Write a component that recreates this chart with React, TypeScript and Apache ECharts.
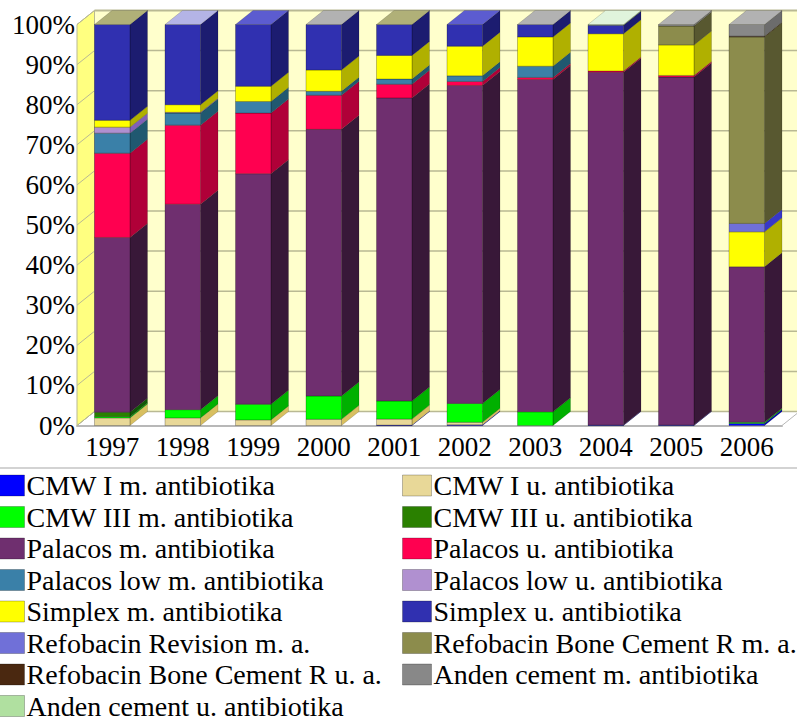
import React, { useEffect, useRef } from "react";
import * as echarts from "echarts";

const years = ["1997", "1998", "1999", "2000", "2001", "2002", "2003", "2004", "2005", "2006"];
const yTicks = [0, 10, 20, 30, 40, 50, 60, 70, 80, 90, 100];

const cmwIM = [0, 0, 0, 0, 0.1, 0.2, 0, 0.1, 0.1, 0.5];
const cmwIU = [1.9, 1.9, 1.4, 1.55, 1.5, 0.6, 0, 0, 0, 0];
const cmwIIIM = [0.3, 2.05, 3.9, 5.8, 4.5, 4.7, 3.4, 0, 0, 0.3];
const cmwIIIU = [1.1, 0, 0, 0, 0, 0, 0, 0, 0, 0];
const palacosM = [43.6, 51.25, 57.5, 66.5, 75.6, 79.3, 82.9, 88.0, 86.8, 38.8];
const palacosU = [21, 19.7, 15.1, 8.5, 3.4, 1, 0.5, 0.3, 0.4, 0];
const palacosLowM = [5, 3, 2.9, 1, 1.3, 1.4, 2.8, 0, 0, 0];
const palacosLowU = [1.5, 0.2, 0, 0, 0, 0, 0, 0, 0, 0];
const simplexM = [1.7, 1.9, 3.8, 5.3, 5.9, 7.4, 7.3, 9.3, 7.6, 8.7];
const simplexU = [23.9, 20, 15.4, 11.35, 7.7, 5.4, 3.1, 2.1, 0, 0];
const refoRevM = [0, 0, 0, 0, 0, 0, 0, 0, 0, 2.1];
const refoBoneM = [0, 0, 0, 0, 0, 0, 0, 0, 4.7, 46.5];
const refoBoneU = [0, 0, 0, 0, 0, 0, 0, 0, 0, 0.2];
const andenM = [0, 0, 0, 0, 0, 0, 0, 0, 0.4, 2.9];
const andenU = [0, 0, 0, 0, 0, 0, 0, 0.2, 0, 0];

const names = [
  "CMW I m. antibiotika", "CMW I u. antibiotika",
  "CMW III m. antibiotika", "CMW III u. antibiotika",
  "Palacos m. antibiotika", "Palacos u. antibiotika",
  "Palacos low m. antibiotika", "Palacos low u. antibiotika",
  "Simplex m. antibiotika", "Simplex u. antibiotika",
  "Refobacin Revision m. a.", "Refobacin Bone Cement R m. a.",
  "Refobacin Bone Cement R u. a.", "Anden cement m. antibiotika",
  "Anden cement u. antibiotika",
];
const values = [cmwIM, cmwIU, cmwIIIM, cmwIIIU, palacosM, palacosU, palacosLowM, palacosLowU, simplexM, simplexU, refoRevM, refoBoneM, refoBoneU, andenM, andenU];
const frontColors = ["#0000ff", "#e8d898", "#00ff00", "#2a8000", "#6f2f6f", "#ff0050", "#3a80a8", "#b090d0", "#ffff00", "#3030b0", "#7070d8", "#8c8c4c", "#4a2810", "#888888", "#b0e0a0"];
const sideColors = ["#0000b0", "#d8bf60", "#00b000", "#105808", "#381838", "#b00038", "#205870", "#8060b8", "#b0b000", "#1c1c70", "#3838c8", "#585830", "#301808", "#6c6c6c", "#80b070"];
const capColors = ["#b0b078", "#b4b4e6", "#5c5cd0", "#b2b2b2", "#b0b078", "#5c5cd0", "#b2b2b2", "#e0f4dc", "#b2b2b2", "#b2b2b2"];

const FONT = "'Liberation Serif', 'Times New Roman', serif";
const DX = 17.5;
const DY = 14;
const EDGE = "rgba(0,0,0,0.25)";
const GRID_LINE = "#b9b993";

function wallsItem(params: any, api: any) {
  const cs = params.coordSys;
  const x0 = cs.x;
  const x1 = cs.x + cs.width;
  const y100 = api.coord([0, 100])[1];
  const y0 = api.coord([0, 0])[1];
  const children: any[] = [
    { type: "polygon", shape: { points: [[x0, y0], [x0 + DX, y0 - DY], [x1 + DX, y0 - DY], [x1, y0]] }, style: { fill: "#ffffff", stroke: "#b8b8b8", lineWidth: 1 } },
    { type: "polygon", shape: { points: [[x0, y100], [x0 + DX, y100 - DY], [x0 + DX, y0 - DY], [x0, y0]] }, style: { fill: "#ffff80", stroke: GRID_LINE, lineWidth: 1 } },
    { type: "rect", shape: { x: x0 + DX, y: y100 - DY, width: cs.width, height: y0 - y100 }, style: { fill: "#ffffcc", stroke: "none" } },
  ];
  yTicks.forEach((t) => {
    const y = api.coord([0, t])[1];
    children.push({ type: "line", shape: { x1: x0, y1: y, x2: x0 + DX, y2: y - DY }, style: { stroke: GRID_LINE, lineWidth: 1 } });
    children.push({ type: "line", shape: { x1: x0 + DX, y1: y - DY, x2: x1 + DX, y2: y - DY }, style: { stroke: GRID_LINE, lineWidth: t === 100 ? 2 : 1.5 } });
  });
  children.push({ type: "line", shape: { x1: x0 + DX, y1: y100 - DY, x2: x0 + DX, y2: y0 - DY }, style: { stroke: GRID_LINE, lineWidth: 1 } });
  return { type: "group", children };
}

function barItem(seriesIndex: number) {
  return (_params: any, api: any) => {
    const cat = api.value(0);
    const half = (api.size([1, 0])[0] * 0.5035) / 2;
    const [cx, yLow] = api.coord([cat, api.value(1)]);
    const yHigh = api.coord([cat, api.value(2)])[1];
    const xl = cx - half;
    const xr = cx + half;
    return {
      type: "group",
      children: [
        { type: "polygon", shape: { points: [[xr, yLow], [xr + DX, yLow - DY], [xr + DX, yHigh - DY], [xr, yHigh]] }, style: { fill: sideColors[seriesIndex], stroke: EDGE, lineWidth: 0.6 } },
        { type: "rect", shape: { x: xl, y: yHigh, width: xr - xl, height: yLow - yHigh }, style: { fill: frontColors[seriesIndex], stroke: EDGE, lineWidth: 1 } },
      ],
    };
  };
}

function capItem(_params: any, api: any) {
  const cat = api.value(0);
  const half = (api.size([1, 0])[0] * 0.5035) / 2;
  const [cx, y] = api.coord([cat, api.value(1)]);
  const xl = cx - half;
  const xr = cx + half;
  return {
    type: "polygon",
    shape: { points: [[xl, y], [xl + DX, y - DY], [xr + DX, y - DY], [xr, y]] },
    style: { fill: capColors[cat], stroke: EDGE, lineWidth: 0.6 },
  };
}

function stackedData(seriesIndex: number) {
  return years
    .map((_, c) => {
      let start = 0;
      for (let s = 0; s < seriesIndex; s++) start += values[s][c];
      return [c, start, start + values[seriesIndex][c]];
    })
    .filter((d) => d[2] > d[1]);
}

function legendOf(left: number, from: number) {
  return {
    type: "plain",
    orient: "vertical",
    left,
    top: 471.5,
    height: 290,
    padding: 0,
    itemWidth: 29,
    itemHeight: 21,
    itemGap: 3.5,
    selectedMode: false,
    icon: "rect",
    textStyle: { fontFamily: FONT, fontSize: 28, color: "#000", lineHeight: 26, padding: [0, 0, 0, -3] },
    data: names
      .map((name, i) => ({ name, i }))
      .filter((d) => d.i % 2 === from)
      .map((d) => ({ name: d.name, itemStyle: { color: frontColors[d.i], borderColor: EDGE, borderWidth: 1 } })),
  };
}

export default function App() {
  const ref = useRef<HTMLDivElement>(null);
  useEffect(() => {
    const chart = echarts.init(ref.current!, null, { renderer: "svg" });
    chart.setOption({
      animation: false,
      backgroundColor: "#ffffff",
      grid: { left: 77, top: 24.5, width: 705, height: 401 },
      xAxis: {
        type: "category",
        data: years,
        axisLine: { show: true, lineStyle: { color: "#b8b8b8", width: 2 } },
        axisTick: { show: false },
        axisLabel: { fontFamily: FONT, fontSize: 27, color: "#000", margin: 8, interval: 0 },
      },
      yAxis: {
        type: "value",
        min: 0,
        max: 100,
        interval: 10,
        splitLine: { show: false },
        axisLine: { show: true, lineStyle: { color: "#b8b8b8", width: 1 } },
        axisTick: { show: false },
        axisLabel: { fontFamily: FONT, fontSize: 27, color: "#000", margin: 2, formatter: "{value}%" },
      },
      legend: [legendOf(-5, 0), legendOf(402, 1)],
      graphic: [
        { type: "line", silent: true, shape: { x1: 0, y1: 468, x2: 797, y2: 468 }, style: { stroke: "#c4c4c4", lineWidth: 1.5 } },
      ],
      series: [
        { type: "custom", name: "walls", silent: true, renderItem: wallsItem, data: [[0]], encode: { x: 0 }, clip: false },
        ...names.map((name, i) => ({
          type: "custom",
          name,
          silent: true,
          clip: false,
          itemStyle: { color: frontColors[i] },
          renderItem: barItem(i),
          encode: { x: 0, y: [1, 2] },
          data: stackedData(i),
        })),
        {
          type: "custom",
          name: "caps",
          silent: true,
          clip: false,
          renderItem: capItem,
          encode: { x: 0, y: 1 },
          data: years.map((_, c) => [c, 100]),
        },
      ],
    });
    return () => chart.dispose();
  }, []);
  return <div ref={ref} style={{ position: "absolute", left: 0, top: 0, width: 797, height: 722 }} />;
}
